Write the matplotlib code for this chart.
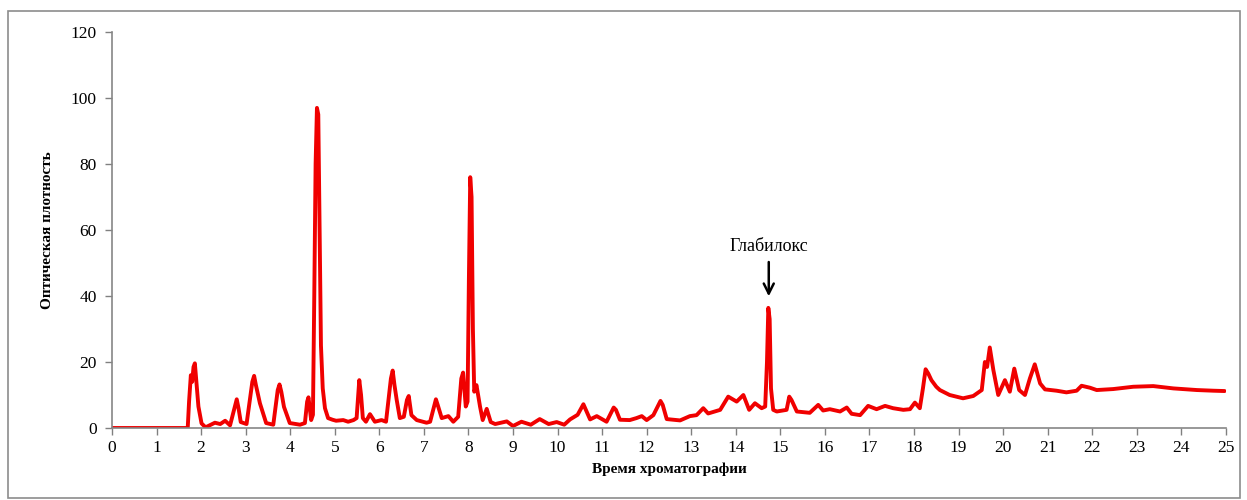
import matplotlib
matplotlib.use("Agg")
import matplotlib.pyplot as plt
from matplotlib.patches import Rectangle

plt.rcParams["font.family"] = ["Liberation Serif", "DejaVu Serif"]

# Chromatogram trace: retention time (min) and optical density
time = [
    0.0, 1.70, 1.73, 1.77, 1.80, 1.83, 1.86, 1.90, 1.94, 2.01, 2.10, 2.31, 2.43, 2.54,
    2.65, 2.76, 2.80, 2.84, 2.89, 3.02, 3.15, 3.19, 3.23, 3.32, 3.46, 3.62, 3.72,
    3.76, 3.80, 3.86, 3.99, 4.22, 4.33, 4.38, 4.41, 4.47, 4.51, 4.54, 4.57, 4.60,
    4.63, 4.66, 4.69, 4.73, 4.78, 4.85, 4.95, 5.03, 5.19, 5.30, 5.42, 5.49, 5.55,
    5.59, 5.63, 5.70, 5.79, 5.90, 6.05, 6.15, 6.26, 6.30, 6.34, 6.39, 6.46, 6.55,
    6.62, 6.66, 6.72, 6.84, 7.06, 7.14, 7.27, 7.31, 7.40, 7.55, 7.66, 7.77, 7.84,
    7.88, 7.94, 7.98, 8.01, 8.04, 8.07, 8.10, 8.13, 8.18, 8.26, 8.32, 8.41, 8.50,
    8.60, 8.86, 9.00, 9.19, 9.40, 9.60, 9.80, 9.98, 10.15, 10.28, 10.45, 10.58,
    10.73, 10.88, 11.10, 11.26, 11.31, 11.40, 11.62, 11.77, 11.89, 12.00, 12.15,
    12.31, 12.36, 12.45, 12.75, 12.97, 13.12, 13.27, 13.38, 13.65, 13.83, 14.02,
    14.17, 14.30, 14.43, 14.58, 14.66, 14.70, 14.73, 14.76, 14.79, 14.84, 14.92,
    15.14, 15.20, 15.25, 15.37, 15.66, 15.85, 15.96, 16.11, 16.34, 16.49, 16.60,
    16.79, 16.97, 17.16, 17.35, 17.53, 17.76, 17.91, 18.02, 18.13, 18.20, 18.26,
    18.32, 18.39, 18.50, 18.58, 18.80, 19.10, 19.33, 19.52, 19.59, 19.64, 19.70,
    19.78, 19.89, 20.04, 20.15, 20.25, 20.36, 20.49, 20.60, 20.71, 20.83, 20.94,
    21.20, 21.42, 21.65, 21.76, 21.95, 22.10, 22.47, 22.92, 23.37, 23.82, 24.35,
    24.72, 24.97,
]
density = [
    0.0, 0.0, 8.0, 16.0, 14.0, 18.5, 19.6, 13.0, 6.5, 1.4, 0.2, 1.6, 1.2, 2.2,
    0.8, 6.5, 8.7, 6.0, 1.8, 1.2, 14.0, 15.8, 13.0, 7.5, 1.5, 1.0, 11.5,
    13.2, 11.0, 6.4, 1.5, 1.0, 1.5, 8.0, 9.3, 2.4, 4.0, 40.0, 80.0, 97.0,
    95.0, 60.0, 25.0, 12.0, 6.0, 3.0, 2.5, 2.2, 2.4, 1.9, 2.4, 3.0, 14.5,
    10.0, 3.0, 1.9, 4.2, 1.9, 2.4, 1.9, 15.0, 17.4, 13.0, 8.5, 3.0, 3.4,
    8.5, 9.7, 3.9, 2.4, 1.6, 1.9, 8.7, 7.0, 3.0, 3.6, 1.9, 3.4, 15.0,
    16.8, 6.5, 8.0, 45.0, 76.0, 70.0, 30.0, 11.0, 13.0, 6.5, 2.4, 5.8, 1.8,
    1.2, 2.0, 0.6, 1.9, 1.0, 2.7, 1.2, 1.8, 1.0, 2.6, 4.0, 7.2,
    2.6, 3.6, 1.9, 6.2, 5.5, 2.5, 2.4, 3.0, 3.6, 2.4, 3.9,
    8.2, 7.0, 2.7, 2.3, 3.6, 3.9, 6.0, 4.4, 5.5, 9.5, 8.0,
    10.0, 5.5, 7.5, 6.0, 6.5, 20.0, 36.4, 33.0, 12.0, 5.5, 5.0,
    5.5, 9.5, 8.5, 5.0, 4.6, 7.0, 5.3, 5.7, 5.0, 6.2, 4.3,
    3.9, 6.7, 5.7, 6.7, 6.0, 5.5, 5.7, 7.7, 6.0, 12.0, 17.8,
    16.5, 14.5, 12.5, 11.5, 10.0, 9.0, 9.7, 11.5, 20.0, 18.5, 24.4,
    17.6, 10.0, 14.5, 11.0, 18.0, 11.5, 10.0, 15.0, 19.3, 13.5, 11.7,
    11.3, 10.8, 11.3, 12.8, 12.2, 11.5, 11.8, 12.5, 12.7, 12.0, 11.5,
    11.3, 11.2,
]

x_ticks = list(range(0, 26))
y_ticks = [0, 20, 40, 60, 80, 100, 120]
peak_label = "Глабилокс"
peak_time = 14.74
peak_height = 36.4

fig = plt.figure(figsize=(12.47, 5.0), dpi=100)
ax = fig.add_axes([0.0898, 0.144, 0.8933, 0.792])

ax.plot(time, density, color="#f00000", linewidth=2.8,
        solid_joinstyle="round", solid_capstyle="round")

ax.set_xlim(0, 25)
ax.set_ylim(0, 120)
ax.set_xticks(x_ticks)
ax.set_yticks(y_ticks)
ax.tick_params(axis="both", colors="#808080", labelcolor="black", labelsize=12.5,
               length=5, width=1)
ax.tick_params(axis="x", pad=4)
ax.tick_params(axis="y", pad=6)

for side in ("top", "right"):
    ax.spines[side].set_visible(False)
for side in ("left", "bottom"):
    ax.spines[side].set_color("#868686")
    ax.spines[side].set_linewidth(1.2)

ax.set_xlabel("Время хроматографии", fontsize=11, fontweight="bold", labelpad=4)
ax.set_ylabel("Оптическая плотность", fontsize=11, fontweight="bold", labelpad=12)

ax.annotate(
    peak_label,
    xy=(peak_time, peak_height + 3.5),
    xytext=(peak_time, peak_height + 16),
    ha="center", va="bottom", fontsize=13,
    arrowprops=dict(arrowstyle="->", color="black", lw=1.8, mutation_scale=18,
                    shrinkA=3, shrinkB=0),
)

# gray frame round the whole chart area
fig.patches.append(Rectangle((8 / 1247, 2 / 500), 1232 / 1247, 487 / 500,
                             transform=fig.transFigure, fill=False,
                             edgecolor="#8c8c8c", linewidth=1.2))

fig.savefig("out.png", dpi=100)
